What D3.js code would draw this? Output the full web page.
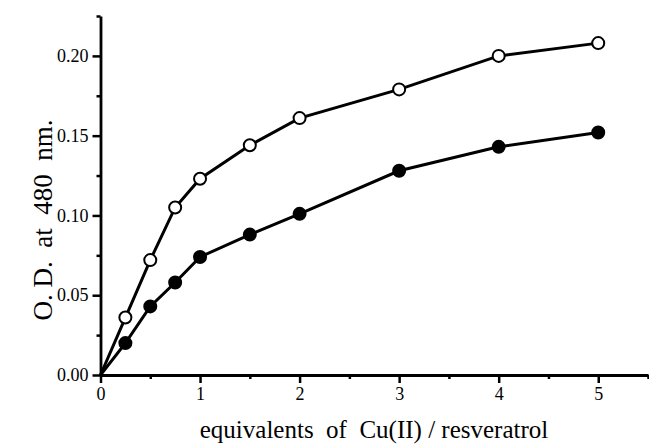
<!DOCTYPE html>
<html>
<head>
<meta charset="utf-8">
<script src="https://cdn.jsdelivr.net/npm/d3@7"></script>
<style>
    body { margin: 0; background: #fff; }
    text { font-family: "Liberation Serif", "Times New Roman", serif; fill: #000; }
</style>
</head>
<body>
<div id="chart"></div>
<script>
// equivalents of Cu(II) added
let equiv = [0, 0.25, 0.5, 0.75, 1, 1.5, 2, 3, 4, 5];
// open circles (upper curve)
let od_open = [0, 0.036, 0.072, 0.105, 0.123, 0.144, 0.161, 0.179, 0.200, 0.208];
// filled circles (lower curve)
let od_filled = [0, 0.020, 0.043, 0.058, 0.074, 0.088, 0.101, 0.128, 0.143, 0.152];

let x_major = [0, 1, 2, 3, 4, 5];
let x_minor = [0.5, 1.5, 2.5, 3.5, 4.5, 5.5];
let y_major = [0, 0.05, 0.10, 0.15, 0.20];
let y_minor = [0.025, 0.075, 0.125, 0.175, 0.225];

let svg_width = 649;
let svg_height = 446;

let svg = d3.select("#chart")
    .append("svg")
    .attr("width", svg_width)
    .attr("height", svg_height);

let x_scale = d3.scaleLinear()
    .domain([0, 5.5])
    .range([100.5, 648]);
let y_scale = d3.scaleLinear()
    .domain([0, 0.225])
    .range([375, 16]);

// minor ticks first, no labels
svg.append("g")
    .attr("transform", `translate(0,${y_scale(0)})`)
    .call(d3.axisBottom(x_scale).tickValues(x_minor).tickSize(4).tickFormat(""))
    .call(g => g.select(".domain").remove());
svg.append("g")
    .attr("transform", `translate(${x_scale(0)},0)`)
    .call(d3.axisLeft(y_scale).tickValues(y_minor).tickSize(4).tickFormat(""))
    .call(g => g.select(".domain").remove());

let x_axis = svg.append("g")
    .attr("transform", `translate(0,${y_scale(0)})`)
    .call(d3.axisBottom(x_scale).tickValues(x_major).tickSize(8).tickSizeOuter(0).tickPadding(4)
        .tickFormat(d3.format("d")));
let y_axis = svg.append("g")
    .attr("transform", `translate(${x_scale(0)},0)`)
    .call(d3.axisLeft(y_scale).tickValues(y_major).tickSize(8).tickSizeOuter(0).tickPadding(4)
        .tickFormat(d3.format(".2f")));

svg.selectAll(".tick line").attr("stroke", "#000").attr("stroke-width", 2.5);
svg.selectAll(".domain").attr("stroke", "#000").attr("stroke-width", 2.8);
svg.selectAll(".tick text")
    .style("font-family", "\"Liberation Serif\", serif")
    .style("font-size", "18px")
    .attr("fill", "#000");

// axis titles
svg.append("text")
    .attr("x", 374)
    .attr("y", 438)
    .attr("text-anchor", "middle")
    .style("font-size", "25px")
    .style("white-space", "pre")
    .text("equivalents  of  Cu(II) / resveratrol");

svg.append("text")
    .attr("transform", "translate(52,220) rotate(-90)")
    .attr("text-anchor", "middle")
    .style("font-size", "27px")
    .style("white-space", "pre")
    .text("O. D.  at  480  nm.");

let line = d3.line()
    .x((d, i) => x_scale(equiv[i]))
    .y(d => y_scale(d));

function draw_series(values, filled) {
    svg.append("path")
        .datum(values)
        .attr("d", line)
        .attr("fill", "none")
        .attr("stroke", "#000")
        .attr("stroke-width", 3);
    svg.append("g")
        .selectAll("circle")
        .data(values.slice(1))
        .join("circle")
        .attr("cx", (d, i) => x_scale(equiv[i + 1]))
        .attr("cy", d => y_scale(d))
        .attr("r", 6)
        .attr("fill", filled ? "#000" : "#fff")
        .attr("stroke", "#000")
        .attr("stroke-width", 2);
}

draw_series(od_filled, true);
draw_series(od_open, false);
</script>
</body>
</html>
